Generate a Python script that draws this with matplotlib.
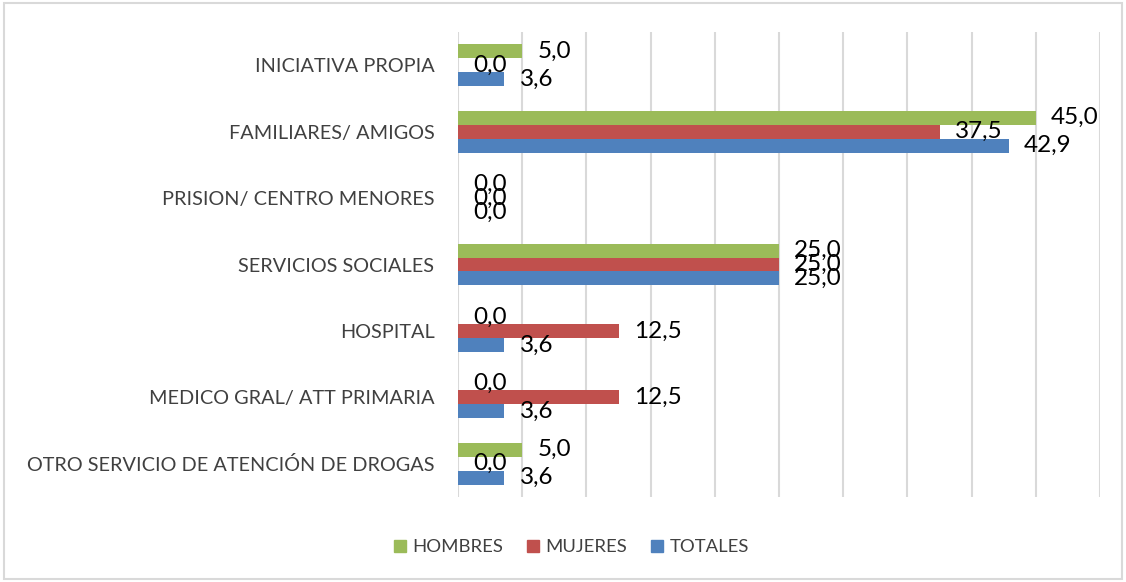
import numpy as np
import matplotlib.pyplot as plt
from matplotlib.patches import Rectangle
from matplotlib.lines import Line2D

# Vía de acceso al tratamiento, porcentajes por sexo
categorias = [
    "INICIATIVA PROPIA",
    "FAMILIARES/ AMIGOS",
    "PRISION/ CENTRO MENORES",
    "SERVICIOS SOCIALES",
    "HOSPITAL",
    "MEDICO GRAL/ ATT PRIMARIA",
    "OTRO SERVICIO DE ATENCIÓN DE DROGAS",
]
hombres = [5.0, 45.0, 0.0, 25.0, 0.0, 0.0, 5.0]
mujeres = [0.0, 37.5, 0.0, 25.0, 12.5, 12.5, 0.0]
totales = [3.6, 42.9, 0.0, 25.0, 3.6, 3.6, 3.6]

series = [("HOMBRES", hombres, "#9BBB59"),
          ("MUJERES", mujeres, "#C0504D"),
          ("TOTALES", totales, "#4F81BD")]

plt.rcParams['font.family'] = ['Lato', 'DejaVu Sans']

fig = plt.figure(figsize=(11.26, 5.82), dpi=100)
ax = fig.add_axes([458 / 1126, 1 - 497 / 582, 642 / 1126, 465 / 582])

n = len(categorias)
y = np.arange(n)[::-1].astype(float)
h = 0.21

handles = []
for i, (nombre, vals, color) in enumerate(series):
    pos = y + h * (1 - i)
    bars = ax.barh(pos, vals, height=h, color=color, zorder=3)
    for b, v in zip(bars, vals):
        ax.annotate(f"{v:.1f}".replace('.', ','),
                    xy=(v, b.get_y() + h / 2), xytext=(11, 0),
                    textcoords="offset points", ha="left", va="center",
                    fontsize=17.5, color="black", zorder=4)
    handles.append(Line2D([], [], marker="s", linestyle="none",
                          markersize=9, color=color, label=nombre))

ax.set_xlim(0, 50)
ax.set_ylim(-0.5, n - 0.5)
ax.set_xticks(np.arange(0, 55, 5))
ax.xaxis.grid(True, color="#d9d9d9", linewidth=1.5, zorder=0)
ax.tick_params(axis="x", length=0, labelbottom=False)
ax.set_yticks(y)
ax.set_yticklabels(categorias, fontsize=14.3, color="#404040")
ax.tick_params(axis="y", length=0, pad=17)
for s in ax.spines.values():
    s.set_visible(False)

leg = fig.legend(handles=handles, loc="center",
                 bbox_to_anchor=(571 / 1126, 1 - 547 / 582),
                 ncol=3, frameon=False, fontsize=13.3, handlelength=0.7,
                 handletextpad=0.3, columnspacing=1.3)
for t in leg.get_texts():
    t.set_color("#404040")

# marco exterior del gráfico
fig.patches.append(Rectangle((4 / 1126, 3 / 582), 1118 / 1126, 576 / 582,
                             transform=fig.transFigure, fill=False,
                             edgecolor="#d9d9d9", linewidth=1.5))

fig.savefig("out.png", dpi=100)
